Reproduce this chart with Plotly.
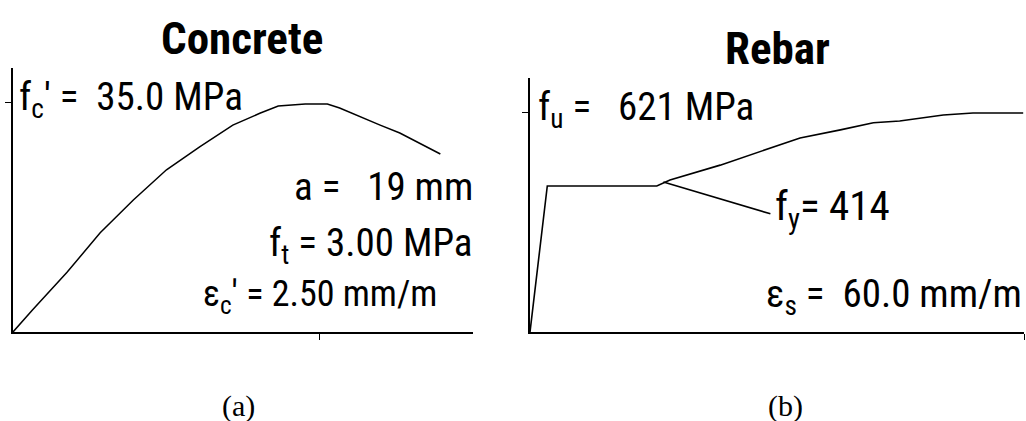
import plotly.graph_objects as go

# ---------------- data ----------------
conc_strain = [0, 0.16, 0.44, 0.71, 0.98, 1.25, 1.52, 1.79, 2.01, 2.16, 2.38, 2.56, 2.66, 2.83, 2.99, 3.15, 3.31, 3.48]
conc_stress = [0, 3.4, 9.1, 15.1, 20.1, 24.7, 28.2, 31.5, 33.3, 34.4, 34.7, 34.7, 34.1, 32.7, 31.5, 30.3, 28.8, 27.1]

steel_strain = [0, 2.1, 15.4, 17.0, 23.1, 27.9, 32.8, 37.7, 41.7, 44.9, 50.2, 53.8, 59.9]
steel_stress = [0, 414, 414, 431, 473, 510, 550, 573, 593, 598, 615, 621, 621]

leader_strain = [16.2, 29.2]
leader_stress = [425, 335]

conc_xticks = [2.5]
conc_yticks = [35.0]
steel_xticks = [60.0]
steel_yticks = [621]

W, H = 1026, 421
FONT = "Roboto Condensed, Liberation Sans, Arial, sans-serif"
SERIF = "Liberation Serif, Times New Roman, serif"

def px(x):
    return x / W

def py(y):
    return 1 - y / H

fig = go.Figure()
fig.add_trace(go.Scatter(x=conc_strain, y=conc_stress, mode="lines",
                         line=dict(color="black", width=1.5), xaxis="x", yaxis="y",
                         showlegend=False, hoverinfo="skip"))
fig.add_trace(go.Scatter(x=steel_strain, y=steel_stress, mode="lines",
                         line=dict(color="black", width=1.6), xaxis="x2", yaxis="y2",
                         showlegend=False, hoverinfo="skip"))
fig.add_trace(go.Scatter(x=leader_strain, y=leader_stress, mode="lines",
                         line=dict(color="black", width=1.6), xaxis="x2", yaxis="y2",
                         showlegend=False, hoverinfo="skip"))

axis_common = dict(showgrid=False, zeroline=False, showline=True, linecolor="black",
                   linewidth=2, ticks="outside", ticklen=6, tickwidth=1.2, tickcolor="black",
                   showticklabels=False, tickmode="array", fixedrange=True)
inner_common = dict(showgrid=False, zeroline=False, showline=False, ticks="inside",
                    ticklen=3, tickwidth=1.2, tickcolor="black", showticklabels=False,
                    tickmode="array", fixedrange=True)

fig.update_layout(
    width=W, height=H, margin=dict(l=0, r=0, t=0, b=0),
    paper_bgcolor="white", plot_bgcolor="rgba(0,0,0,0)",
    xaxis=dict(domain=[px(13), px(473)], range=[0, 3.746], anchor="y", tickvals=conc_xticks, **axis_common),
    yaxis=dict(domain=[py(332), py(68)], range=[0, 40.2], anchor="x", tickvals=conc_yticks, **axis_common),
    xaxis2=dict(domain=[px(530), px(1024)], range=[0, 60.0], anchor="y2", tickvals=steel_xticks, **axis_common),
    yaxis2=dict(domain=[py(332), py(78)], range=[0, 720], anchor="x2", tickvals=steel_yticks, **axis_common),
    xaxis3=dict(overlaying="x", anchor="y", range=[0, 3.746], tickvals=conc_xticks, **inner_common),
    yaxis3=dict(overlaying="y", anchor="x", range=[0, 40.2], tickvals=conc_yticks, **inner_common),
    xaxis4=dict(overlaying="x2", anchor="y2", range=[0, 60.0], tickvals=steel_xticks, **inner_common),
    yaxis4=dict(overlaying="y2", anchor="x2", range=[0, 720], tickvals=steel_yticks, **inner_common),
)

def label(text, x, y, size=39, xanchor="left", bold=False, family=FONT):
    fig.add_annotation(text=("<b>%s</b>" % text) if bold else text,
                       xref="paper", yref="paper", x=px(x), y=py(y),
                       xanchor=xanchor, yanchor="middle", showarrow=False,
                       font=dict(family=family, size=size, color="black"))

label("Concrete", 242, 39, size=45, xanchor="center", bold=True)
label("Rebar", 777, 48, size=45, xanchor="center", bold=True)

label("f<sub>c</sub>' =  35.0 MPa", 17, 99)
label("a =   19 mm", 475, 187, xanchor="right")
label("f<sub>t</sub> = 3.00 MPa", 475, 246, xanchor="right")
label("ε<sub>c</sub>' = 2.50 mm/m", 439, 296, size=36, xanchor="right")

label("f<sub>u</sub> =   621 MPa", 536, 110)
label("f<sub>y</sub>= 414", 773, 209, size=41)
label("ε<sub>s</sub> =  60.0 mm/m", 1024, 296, xanchor="right")

label("(a)", 238, 406, size=30, xanchor="center", family=SERIF)
label("(b)", 785, 406, size=30, xanchor="center", family=SERIF)

fig.write_html("out.html")
